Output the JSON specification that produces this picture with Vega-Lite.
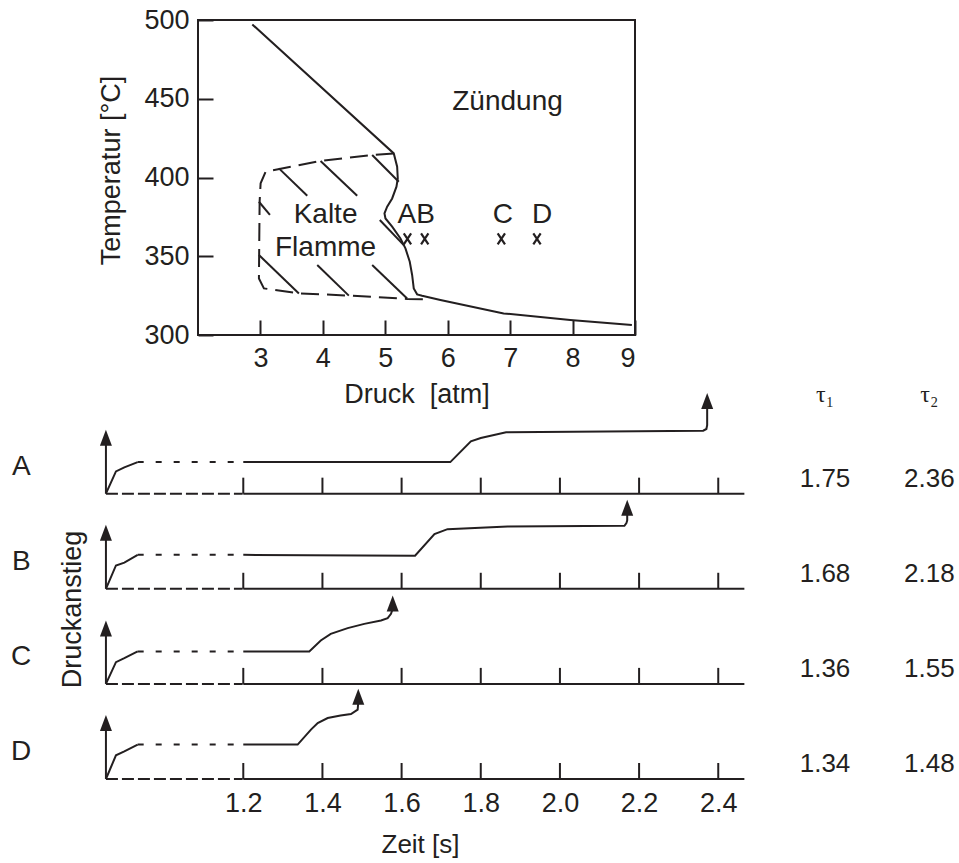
{
  "$schema": "https://vega.github.io/schema/vega-lite/v6.json",
  "padding": {"left": 11, "top": 5, "right": 5, "bottom": 5},
  "spacing": 16,
  "bounds": "flush",
  "config": {
    "font": "Liberation Sans",
    "axis": {"labelColor": "#231f20", "titleColor": "#231f20", "tickColor": "#231f20", "titleFontWeight": "normal", "grid": false, "labelFont": "Liberation Sans", "titleFont": "Liberation Sans"}
  },
  "datasets": {
    "rows": [
      {"row": "A", "base": 3, "ticks": [1.2, 1.4, 1.6, 1.8, 2.0, 2.2, 2.4]},
      {"row": "B", "base": 2, "ticks": [1.2, 1.4, 1.6, 1.8, 2.0, 2.2, 2.4]},
      {"row": "C", "base": 1, "ticks": [1.2, 1.4, 1.6, 1.8, 2.0, 2.2, 2.4]},
      {"row": "D", "base": 0, "ticks": [1.2, 1.4, 1.6, 1.8, 2.0, 2.2, 2.4]}
    ],
    "taus": [
      {"row": "A", "tau": "τ1", "value": 1.75, "t": 2.6697, "y": 3.158},
      {"row": "A", "tau": "τ2", "value": 2.36, "t": 2.9332, "y": 3.158},
      {"row": "B", "tau": "τ1", "value": 1.68, "t": 2.6697, "y": 2.158},
      {"row": "B", "tau": "τ2", "value": 2.18, "t": 2.9332, "y": 2.158},
      {"row": "C", "tau": "τ1", "value": 1.36, "t": 2.6697, "y": 1.158},
      {"row": "C", "tau": "τ2", "value": 1.55, "t": 2.9332, "y": 1.158},
      {"row": "D", "tau": "τ1", "value": 1.34, "t": 2.6697, "y": 0.158},
      {"row": "D", "tau": "τ2", "value": 1.48, "t": 2.9332, "y": 0.158}
    ],
    "traces": [
      {"row": "A", "seg": "bdash", "t": 0.853, "y": 3.0},
      {"row": "A", "seg": "bdash", "t": 1.1985, "y": 3.0},
      {"row": "A", "seg": "bsolid", "t": 1.2, "y": 3.0},
      {"row": "A", "seg": "bsolid", "t": 2.466, "y": 3.0},
      {"row": "A", "seg": "axis", "t": 0.853, "y": 3.0},
      {"row": "A", "seg": "axis", "t": 0.853, "y": 3.536},
      {"row": "A", "seg": "rise", "t": 0.853, "y": 3.0},
      {"row": "A", "seg": "rise", "t": 0.8783, "y": 3.234},
      {"row": "A", "seg": "rise", "t": 0.8995, "y": 3.277},
      {"row": "A", "seg": "rise", "t": 0.9332, "y": 3.332},
      {"row": "A", "seg": "dots", "t": 0.9332, "y": 3.332},
      {"row": "A", "seg": "dots", "t": 1.1985, "y": 3.332},
      {"row": "A", "seg": "main", "t": 1.2, "y": 3.332},
      {"row": "A", "seg": "main", "t": 1.723, "y": 3.332},
      {"row": "A", "seg": "main", "t": 1.775, "y": 3.55},
      {"row": "A", "seg": "main", "t": 1.8, "y": 3.585},
      {"row": "A", "seg": "main", "t": 1.864, "y": 3.645},
      {"row": "A", "seg": "main", "t": 2.362, "y": 3.662},
      {"row": "A", "seg": "main", "t": 2.37, "y": 3.68},
      {"row": "A", "seg": "main", "t": 2.372, "y": 3.72},
      {"row": "A", "seg": "main", "t": 2.372, "y": 3.92},
      {"row": "B", "seg": "bdash", "t": 0.853, "y": 2.0},
      {"row": "B", "seg": "bdash", "t": 1.1985, "y": 2.0},
      {"row": "B", "seg": "bsolid", "t": 1.2, "y": 2.0},
      {"row": "B", "seg": "bsolid", "t": 2.466, "y": 2.0},
      {"row": "B", "seg": "axis", "t": 0.853, "y": 2.0},
      {"row": "B", "seg": "axis", "t": 0.853, "y": 2.536},
      {"row": "B", "seg": "rise", "t": 0.853, "y": 2.0},
      {"row": "B", "seg": "rise", "t": 0.8783, "y": 2.245},
      {"row": "B", "seg": "rise", "t": 0.8995, "y": 2.275},
      {"row": "B", "seg": "rise", "t": 0.9332, "y": 2.357},
      {"row": "B", "seg": "dots", "t": 0.9332, "y": 2.357},
      {"row": "B", "seg": "dots", "t": 1.1985, "y": 2.357},
      {"row": "B", "seg": "main", "t": 1.2, "y": 2.357},
      {"row": "B", "seg": "main", "t": 1.634, "y": 2.347},
      {"row": "B", "seg": "main", "t": 1.683, "y": 2.574},
      {"row": "B", "seg": "main", "t": 1.716, "y": 2.627},
      {"row": "B", "seg": "main", "t": 1.868, "y": 2.655},
      {"row": "B", "seg": "main", "t": 2.163, "y": 2.662},
      {"row": "B", "seg": "main", "t": 2.168, "y": 2.69},
      {"row": "B", "seg": "main", "t": 2.17, "y": 2.72},
      {"row": "B", "seg": "main", "t": 2.17, "y": 2.8},
      {"row": "C", "seg": "bdash", "t": 0.853, "y": 1.0},
      {"row": "C", "seg": "bdash", "t": 1.1985, "y": 1.0},
      {"row": "C", "seg": "bsolid", "t": 1.2, "y": 1.0},
      {"row": "C", "seg": "bsolid", "t": 2.466, "y": 1.0},
      {"row": "C", "seg": "axis", "t": 0.853, "y": 1.0},
      {"row": "C", "seg": "axis", "t": 0.853, "y": 1.53},
      {"row": "C", "seg": "rise", "t": 0.853, "y": 1.0},
      {"row": "C", "seg": "rise", "t": 0.8783, "y": 1.228},
      {"row": "C", "seg": "rise", "t": 0.8995, "y": 1.27},
      {"row": "C", "seg": "rise", "t": 0.9332, "y": 1.341},
      {"row": "C", "seg": "dots", "t": 0.9332, "y": 1.341},
      {"row": "C", "seg": "dots", "t": 1.1985, "y": 1.341},
      {"row": "C", "seg": "main", "t": 1.2, "y": 1.341},
      {"row": "C", "seg": "main", "t": 1.3668, "y": 1.341},
      {"row": "C", "seg": "main", "t": 1.3958, "y": 1.456},
      {"row": "C", "seg": "main", "t": 1.421, "y": 1.526},
      {"row": "C", "seg": "main", "t": 1.4638, "y": 1.586},
      {"row": "C", "seg": "main", "t": 1.5057, "y": 1.631},
      {"row": "C", "seg": "main", "t": 1.5479, "y": 1.667},
      {"row": "C", "seg": "main", "t": 1.5648, "y": 1.691},
      {"row": "C", "seg": "main", "t": 1.5732, "y": 1.736},
      {"row": "C", "seg": "main", "t": 1.5775, "y": 1.79},
      {"row": "D", "seg": "bdash", "t": 0.853, "y": 0.0},
      {"row": "D", "seg": "bdash", "t": 1.1985, "y": 0.0},
      {"row": "D", "seg": "bsolid", "t": 1.2, "y": 0.0},
      {"row": "D", "seg": "bsolid", "t": 2.466, "y": 0.0},
      {"row": "D", "seg": "axis", "t": 0.853, "y": 0.0},
      {"row": "D", "seg": "axis", "t": 0.853, "y": 0.536},
      {"row": "D", "seg": "rise", "t": 0.853, "y": 0.0},
      {"row": "D", "seg": "rise", "t": 0.8783, "y": 0.249},
      {"row": "D", "seg": "rise", "t": 0.8995, "y": 0.291},
      {"row": "D", "seg": "rise", "t": 0.9332, "y": 0.362},
      {"row": "D", "seg": "dots", "t": 0.9332, "y": 0.362},
      {"row": "D", "seg": "dots", "t": 1.1985, "y": 0.362},
      {"row": "D", "seg": "main", "t": 1.2, "y": 0.362},
      {"row": "D", "seg": "main", "t": 1.3374, "y": 0.362},
      {"row": "D", "seg": "main", "t": 1.371, "y": 0.519},
      {"row": "D", "seg": "main", "t": 1.388, "y": 0.589},
      {"row": "D", "seg": "main", "t": 1.4132, "y": 0.641},
      {"row": "D", "seg": "main", "t": 1.4458, "y": 0.667},
      {"row": "D", "seg": "main", "t": 1.4721, "y": 0.683},
      {"row": "D", "seg": "main", "t": 1.489, "y": 0.73},
      {"row": "D", "seg": "main", "t": 1.4906, "y": 0.81}
    ],
    "tips": [
      {"t": 0.853, "y": 3.673},
      {"t": 0.853, "y": 2.673},
      {"t": 0.853, "y": 1.667},
      {"t": 0.853, "y": 0.673},
      {"t": 2.372, "y": 4.058},
      {"t": 2.17, "y": 2.936},
      {"t": 1.5775, "y": 1.929},
      {"t": 1.4906, "y": 0.95}
    ],
    "notes": [
      {"label": "A", "t": 0.639, "y": 3.284},
      {"label": "B", "t": 0.639, "y": 2.284},
      {"label": "C", "t": 0.639, "y": 1.284},
      {"label": "D", "t": 0.639, "y": 0.284}
    ]
  },
  "vconcat": [
    {
      "width": 437,
      "height": 315,
      "view": {"stroke": "#231f20", "strokeWidth": 2},
      "encoding": {
        "x": {"field": "p", "type": "quantitative", "scale": {"domain": [2, 9], "nice": false, "zero": false},
          "axis": {"values": [3, 4, 5, 6, 7, 8, 9], "tickSize": -15, "tickWidth": 2, "domain": false, "labelPadding": 25, "labelFontSize": 27, "labelAngle": 0, "title": "Druck\u00a0\u00a0[atm]", "titleFontSize": 27, "titlePadding": 10}},
        "y": {"field": "T", "type": "quantitative", "scale": {"domain": [300, 500], "nice": false, "zero": false},
          "axis": {"values": [300, 350, 400, 450, 500], "tickSize": -15, "tickWidth": 2, "domain": false, "labelPadding": 24, "labelFontSize": 27, "title": "Temperatur [°C]", "titleFontSize": 27, "titlePadding": 18, "titleY": 150}}
      },
      "layer": [
        {
          "data": {"values": [
            {"p": 2.87, "T": 497.2}, {"p": 5.136, "T": 415.3}, {"p": 5.19, "T": 406.9}, {"p": 5.2, "T": 399.4},
            {"p": 5.179, "T": 394.2}, {"p": 5.11, "T": 386.7}, {"p": 5.03, "T": 381.5}, {"p": 4.987, "T": 377.2},
            {"p": 5.003, "T": 374.0}, {"p": 5.11, "T": 368.8}, {"p": 5.243, "T": 361.3}, {"p": 5.323, "T": 355.0},
            {"p": 5.392, "T": 346.5}, {"p": 5.43, "T": 338.1}, {"p": 5.456, "T": 329.6}, {"p": 5.51, "T": 325.8},
            {"p": 5.59, "T": 324.9}, {"p": 5.883, "T": 322.2}, {"p": 6.896, "T": 313.7}, {"p": 7.963, "T": 309.5},
            {"p": 8.95, "T": 306.3}
          ]},
          "mark": {"type": "line", "color": "#231f20", "strokeWidth": 2},
          "encoding": {"order": {"value": null}}
        },
        {
          "data": {"values": [
            {"p": 5.136, "T": 415.3}, {"p": 4.79, "T": 414.3}, {"p": 3.963, "T": 410.5}, {"p": 3.083, "T": 403.7},
            {"p": 3.003, "T": 396.3}, {"p": 2.987, "T": 384.6}, {"p": 2.976, "T": 335.9}, {"p": 3.056, "T": 329.6},
            {"p": 3.616, "T": 326.4}, {"p": 4.443, "T": 325.0}, {"p": 5.35, "T": 322.9}, {"p": 5.696, "T": 322.6}
          ]},
          "mark": {"type": "line", "color": "#231f20", "strokeWidth": 2, "strokeDash": [18, 8]},
          "encoding": {"order": {"value": null}}
        },
        {
          "data": {"values": [
            {"id": 1, "p": 3.296, "T": 405.8}, {"id": 1, "p": 3.75, "T": 388.4},
            {"id": 2, "p": 3.963, "T": 410.5}, {"id": 2, "p": 4.55, "T": 388.4},
            {"id": 3, "p": 4.79, "T": 414.3}, {"id": 3, "p": 5.216, "T": 397.3},
            {"id": 4, "p": 2.976, "T": 384.6}, {"id": 4, "p": 3.152, "T": 376.2},
            {"id": 5, "p": 2.976, "T": 350.8}, {"id": 5, "p": 3.616, "T": 326.4},
            {"id": 6, "p": 3.91, "T": 344.4}, {"id": 6, "p": 4.416, "T": 325.0},
            {"id": 7, "p": 4.79, "T": 344.4}, {"id": 7, "p": 5.35, "T": 323.2},
            {"id": 8, "p": 4.912, "T": 373.0}, {"id": 8, "p": 5.296, "T": 357.1}
          ]},
          "mark": {"type": "line", "color": "#231f20", "strokeWidth": 2},
          "encoding": {"detail": {"field": "id", "type": "nominal"}, "order": {"value": null}}
        },
        {
          "data": {"values": [
            {"label": "Zündung", "p": 6.958, "T": 447.9},
            {"label": "Kalte", "p": 4.043, "T": 376.2},
            {"label": "Flamme", "p": 4.043, "T": 355.4},
            {"label": "AB", "p": 5.496, "T": 376.2},
            {"label": "C", "p": 6.883, "T": 376.2},
            {"label": "D", "p": 7.512, "T": 376.2}
          ]},
          "mark": {"type": "text", "fontSize": 28, "color": "#231f20", "align": "center", "baseline": "middle"},
          "encoding": {"text": {"field": "label"}}
        },
        {
          "data": {"values": [
            {"pt": "A", "p": 5.355, "T": 361.1},
            {"pt": "B", "p": 5.632, "T": 361.1},
            {"pt": "C", "p": 6.859, "T": 361.1},
            {"pt": "D", "p": 7.43, "T": 361.1}
          ]},
          "mark": {"type": "point", "shape": "M-0.5,-0.75L0.5,0.75M0.5,-0.75L-0.5,0.75", "size": 215, "filled": false, "stroke": "#231f20", "strokeWidth": 2.2, "opacity": 1},
          "encoding": {}
        }
      ]
    },
    {
      "width": 740,
      "height": 428,
      "view": {"stroke": null},
      "encoding": {
        "x": {"field": "t", "type": "quantitative", "scale": {"domain": [1.0856, 2.9552], "nice": false, "zero": false},
          "axis": {"values": [1.2, 1.4, 1.6, 1.8, 2.0, 2.2, 2.4], "format": ".1f", "ticks": false, "domain": false, "labelPadding": 11, "labelFontSize": 27, "labelFlush": false, "title": "Zeit [s]", "titleFontSize": 26, "titlePadding": 15, "titleX": 222}},
        "y": {"field": "y", "type": "quantitative", "scale": {"domain": [0, 4.5], "nice": false, "zero": false}, "axis": null}
      },
      "layer": [
        {
          "data": {"name": "traces"},
          "transform": [{"filter": "datum.seg === 'bdash'"}],
          "mark": {"type": "line", "color": "#231f20", "strokeWidth": 2, "strokeDash": [12, 4]},
          "encoding": {"detail": {"field": "row", "type": "nominal"}, "order": {"value": null}}
        },
        {
          "data": {"name": "rows"},
          "transform": [{"flatten": ["ticks"], "as": ["t"]}],
          "mark": {"type": "tick", "orient": "vertical", "color": "#231f20", "size": 16, "thickness": 2, "yOffset": -8, "opacity": 1},
          "encoding": {
            "y": {"field": "base", "type": "quantitative", "scale": {"domain": [0, 4.5], "nice": false, "zero": false}, "axis": null}
          }
        },
        {
          "data": {"name": "traces"},
          "transform": [{"filter": "datum.seg !== 'dots' && datum.seg !== 'bdash'"}],
          "mark": {"type": "line", "color": "#231f20", "strokeWidth": 2},
          "encoding": {"detail": [{"field": "row", "type": "nominal"}, {"field": "seg", "type": "nominal"}], "order": {"value": null}}
        },
        {
          "data": {"name": "traces"},
          "transform": [{"filter": "datum.seg === 'dots'"}],
          "mark": {"type": "line", "color": "#231f20", "strokeWidth": 2, "strokeDash": [6, 12]},
          "encoding": {"detail": {"field": "row", "type": "nominal"}, "order": {"value": null}}
        },
        {
          "data": {"name": "tips"},
          "mark": {"type": "point", "shape": "M0,-1L0.75,1L-0.75,1Z", "size": 256, "filled": true, "color": "#231f20", "opacity": 1, "yOffset": 8},
          "encoding": {}
        },
        {
          "data": {"name": "notes"},
          "mark": {"type": "text", "fontSize": 28, "color": "#231f20", "align": "center", "baseline": "middle"},
          "encoding": {"text": {"field": "label"}}
        },
        {
          "data": {"name": "taus"},
          "mark": {"type": "text", "fontSize": 26, "color": "#231f20", "align": "center", "baseline": "middle"},
          "encoding": {"text": {"field": "value", "type": "quantitative", "format": ".2f"}}
        },
        {
          "data": {"values": [{"label": "τ₁", "t": 2.6697, "y": 4.04}, {"label": "τ₂", "t": 2.9332, "y": 4.04}]},
          "mark": {"type": "text", "font": "Liberation Serif", "fontSize": 24, "color": "#231f20", "align": "center", "baseline": "middle"},
          "encoding": {"text": {"field": "label"}}
        },
        {
          "data": {"values": [{"label": "Druckanstieg", "t": 0.769, "y": 1.782}]},
          "mark": {"type": "text", "fontSize": 27, "angle": 270, "color": "#231f20", "align": "center", "baseline": "middle"},
          "encoding": {"text": {"field": "label"}}
        }
      ]
    }
  ]
}
